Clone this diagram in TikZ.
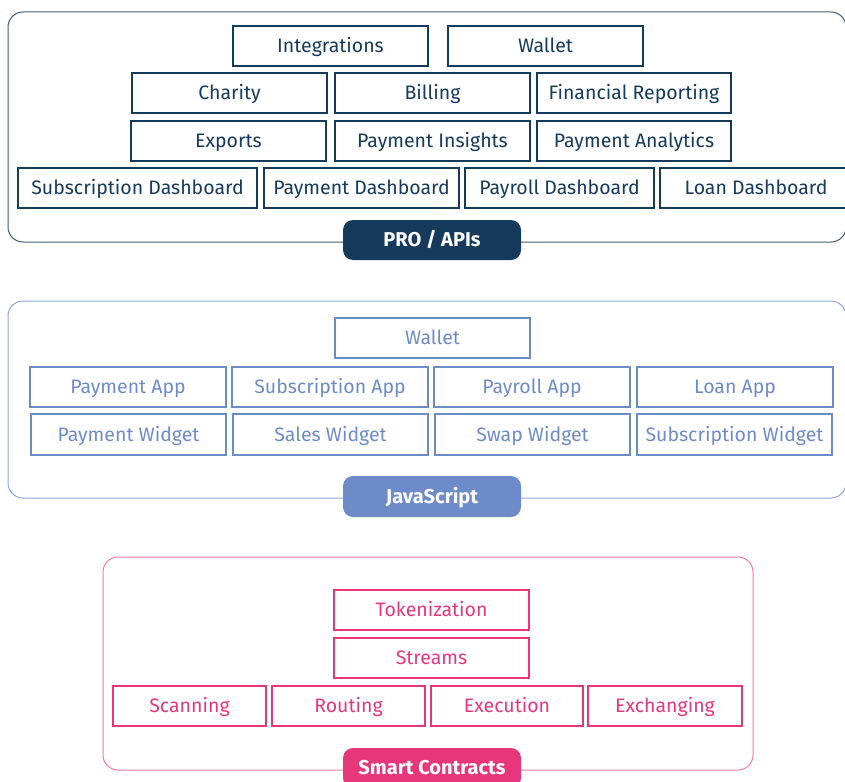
\documentclass[tikz,border=0pt]{standalone}
\usepackage{fontspec}
\setmainfont{Fira Sans}
\definecolor{navy}{HTML}{163A5C}
\definecolor{navyline}{HTML}{3F5C7A}
\definecolor{jsblue}{HTML}{6E8BC9}
\definecolor{jsline}{HTML}{8EA7DA}
\definecolor{pink}{HTML}{E8367A}
\definecolor{pinkline}{HTML}{F17AA7}
\tikzset{
  box/.style={draw, line width=1.2pt, minimum height=40pt, inner sep=0pt, text height=13.4pt, text depth=0pt, font=\fontsize{19.5}{22}\selectfont},
  probox/.style={box, draw=navy, text=navy},
  jsbox/.style={box, draw=jsblue, text=jsblue},
  scbox/.style={box, draw=pink, text=pink},
  badge/.style={rounded corners=10pt, minimum width=178pt, minimum height=40pt, inner sep=0pt, text height=13.6pt, text depth=0pt, text=white, font=\bfseries\fontsize{20}{23}\selectfont},
  container/.style={rounded corners=15pt, line width=1pt}
}
\begin{document}
\begin{tikzpicture}[x=1pt,y=-1pt]
\useasboundingbox (0,0) rectangle (845,781);
\begin{scope}
\clip (0,0) rectangle (845,781);
% ---------- PRO / APIs ----------
\draw[container, draw=navyline] (8,12) rectangle (846,242);
\node[probox, minimum width=195pt] (integ) at (330.5,46) {Integrations};
\node[probox, minimum width=195pt] (wallet1) at (545.5,46) {Wallet};
\node[probox, minimum width=195pt] (charity) at (229.5,93) {Charity};
\node[probox, minimum width=195pt] (billing) at (432.5,93) {Billing};
\node[probox, minimum width=194pt] (finrep) at (634,93) {Financial Reporting};
\node[probox, minimum width=195pt] (exports) at (228.5,141) {Exports};
\node[probox, minimum width=195pt] (payins) at (432.5,141) {Payment Insights};
\node[probox, minimum width=194pt] (payan) at (634,141) {Payment Analytics};
\node[probox, minimum width=239pt] (subdash) at (137.5,188) {Subscription Dashboard};
\node[probox, minimum width=195pt] (paydash) at (361.5,188) {Payment Dashboard};
\node[probox, minimum width=189pt] (payrolldash) at (559.5,188) {Payroll Dashboard};
\node[probox, minimum width=192pt] (loandash) at (756,188) {Loan Dashboard};
\node[badge, fill=navy] (pro) at (432,240) {PRO / APIs};
% ---------- JavaScript ----------
\draw[container, draw=jsline] (8,301) rectangle (846,498);
\node[jsbox, minimum width=195pt] (wallet2) at (432.5,338) {Wallet};
\node[jsbox, minimum width=196pt] (payapp) at (128,387) {Payment App};
\node[jsbox, minimum width=196pt] (subapp) at (330,387) {Subscription App};
\node[jsbox, minimum width=196pt] (payrollapp) at (532,387) {Payroll App};
\node[jsbox, minimum width=196pt] (loanapp) at (735,387) {Loan App};
\node[jsbox, minimum width=195pt, minimum height=41pt] (paywid) at (128.5,434.5) {Payment Widget};
\node[jsbox, minimum width=195pt, minimum height=41pt] (saleswid) at (330.5,434.5) {Sales Widget};
\node[jsbox, minimum width=195pt, minimum height=41pt] (swapwid) at (532.5,434.5) {Swap Widget};
\node[jsbox, minimum width=195pt, minimum height=41pt] (subwid) at (734.5,434.5) {Subscription Widget};
\node[badge, fill=jsblue, minimum height=41pt] (js) at (432,496.5) {JavaScript};
% ---------- Smart Contracts ----------
\draw[container, draw=pinkline] (103,557) rectangle (753,770);
\node[scbox, minimum width=195pt] (tok) at (431.5,610) {Tokenization};
\node[scbox, minimum width=195pt] (streams) at (431.5,658) {Streams};
\node[scbox, minimum width=153pt] (scan) at (189.5,706) {Scanning};
\node[scbox, minimum width=153pt] (routing) at (348.5,706) {Routing};
\node[scbox, minimum width=152pt] (exec) at (507,706) {Execution};
\node[scbox, minimum width=154pt] (exch) at (665,706) {Exchanging};
\node[badge, fill=pink] (sc) at (432,768) {Smart Contracts};
\end{scope}
\end{tikzpicture}
\end{document}
